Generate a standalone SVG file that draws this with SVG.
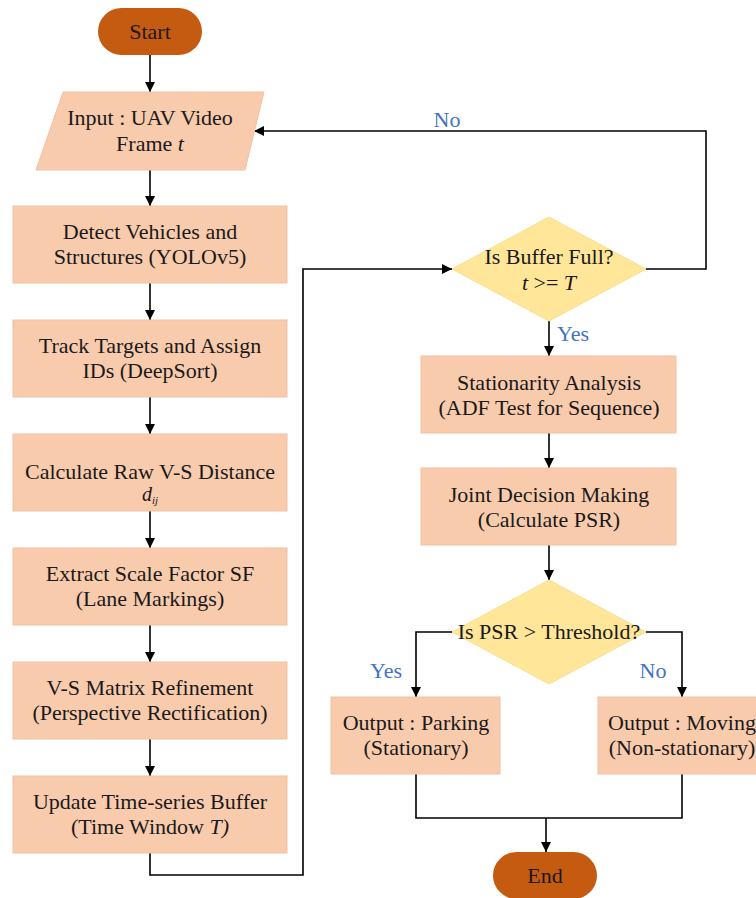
<svg xmlns="http://www.w3.org/2000/svg" width="756" height="898" viewBox="0 0 756 898">
<style>
.box{fill:#F8CBAD;stroke:#F2C2A2;stroke-width:1}
.dia{fill:#FFE699;stroke:#F8DE90;stroke-width:1}
.term{fill:#C55A11}
.t{font-family:"Liberation Serif","Times New Roman",serif;font-size:22px;fill:#1a1a1a;text-anchor:middle}
.lbl{font-family:"Liberation Serif","Times New Roman",serif;font-size:22px;fill:#4472C4;text-anchor:middle}
.c{fill:none;stroke:#000;stroke-width:1.6}
</style>
<defs>
<marker id="ah" markerWidth="10" markerHeight="10" refX="10" refY="5" orient="auto" markerUnits="userSpaceOnUse">
<path d="M0,0 L10,5 L0,10 Z" fill="#000"/>
</marker>
</defs>
<rect width="756" height="898" fill="#fff"/>
<g id="connectors">
<line class="c" x1="150" y1="55" x2="150" y2="92" marker-end="url(#ah)"/>
<line class="c" x1="150" y1="170" x2="150" y2="206" marker-end="url(#ah)"/>
<line class="c" x1="150" y1="283" x2="150" y2="320" marker-end="url(#ah)"/>
<line class="c" x1="150" y1="397" x2="150" y2="434" marker-end="url(#ah)"/>
<line class="c" x1="150" y1="511" x2="150" y2="548" marker-end="url(#ah)"/>
<line class="c" x1="150" y1="625" x2="150" y2="662" marker-end="url(#ah)"/>
<line class="c" x1="150" y1="739" x2="150" y2="776" marker-end="url(#ah)"/>
<polyline class="c" points="150,853 150,875 303,875 303,269 452,269" marker-end="url(#ah)"/>
<polyline class="c" points="646,269 706,269 706,131 254,131" marker-end="url(#ah)"/>
<line class="c" x1="549" y1="321" x2="549" y2="356" marker-end="url(#ah)"/>
<line class="c" x1="549" y1="433" x2="549" y2="468" marker-end="url(#ah)"/>
<line class="c" x1="549" y1="545" x2="549" y2="580" marker-end="url(#ah)"/>
<polyline class="c" points="452,632 416,632 416,697" marker-end="url(#ah)"/>
<polyline class="c" points="646,632 682,632 682,697" marker-end="url(#ah)"/>
<polyline class="c" points="416,774 416,818 682,818 682,774"/>
<line class="c" x1="546" y1="818" x2="546" y2="852" marker-end="url(#ah)"/>
<text class="lbl" x="447" y="127">No</text>
<text class="lbl" x="573" y="341">Yes</text>
<text class="lbl" x="386" y="678">Yes</text>
<text class="lbl" x="653" y="678">No</text>
</g>
<g id="start">
<rect class="term" x="98" y="8" width="104" height="47" rx="23.5"/>
<text class="t" x="150" y="39">Start</text>
</g>
<g id="input">
<polygon class="box" points="63,92 264,92 245,170 36,170"/>
<text class="t" x="150" y="125">Input : UAV Video</text>
<text class="t" x="150" y="151">Frame <tspan font-style="italic">t</tspan></text>
</g>
<g id="detect">
<rect class="box" x="13" y="206" width="274" height="77"/>
<text class="t" x="150" y="239">Detect Vehicles and</text>
<text class="t" x="150" y="264">Structures (YOLOv5)</text>
</g>
<g id="track">
<rect class="box" x="13" y="320" width="274" height="77"/>
<text class="t" x="150" y="353">Track Targets and Assign</text>
<text class="t" x="150" y="378">IDs (DeepSort)</text>
</g>
<g id="calc">
<rect class="box" x="13" y="434" width="274" height="77"/>
<text class="t" x="150" y="479">Calculate Raw V-S Distance</text>
<text class="t" x="150" y="501"><tspan font-style="italic" font-size="20">d</tspan><tspan font-style="italic" font-size="11" dy="3">ij</tspan></text>
</g>
<g id="extract">
<rect class="box" x="13" y="548" width="274" height="77"/>
<text class="t" x="150" y="581">Extract Scale Factor SF</text>
<text class="t" x="150" y="606">(Lane Markings)</text>
</g>
<g id="refine">
<rect class="box" x="13" y="662" width="274" height="77"/>
<text class="t" x="150" y="695">V-S Matrix Refinement</text>
<text class="t" x="150" y="720">(Perspective Rectification)</text>
</g>
<g id="update">
<rect class="box" x="13" y="776" width="274" height="77"/>
<text class="t" x="150" y="809">Update Time-series Buffer</text>
<text class="t" x="150" y="834">(Time Window <tspan font-style="italic">T)</tspan></text>
</g>
<g id="buffer">
<polygon class="dia" points="549,217 646,269 549,321 452,269"/>
<text class="t" x="549" y="264">Is Buffer Full?</text>
<text class="t" x="549" y="290"><tspan font-style="italic">t</tspan> &gt;= <tspan font-style="italic">T</tspan></text>
</g>
<g id="stationarity">
<rect class="box" x="421" y="356" width="255" height="77"/>
<text class="t" x="549" y="390">Stationarity Analysis</text>
<text class="t" x="549" y="415">(ADF Test for Sequence)</text>
</g>
<g id="joint">
<rect class="box" x="421" y="468" width="255" height="77"/>
<text class="t" x="549" y="502">Joint Decision Making</text>
<text class="t" x="549" y="527">(Calculate PSR)</text>
</g>
<g id="psr">
<polygon class="dia" points="549,580 646,632 549,684 452,632"/>
<text class="t" x="549" y="639">Is PSR &gt; Threshold?</text>
</g>
<g id="parking">
<rect class="box" x="331" y="697" width="169" height="77"/>
<text class="t" x="416" y="730">Output : Parking</text>
<text class="t" x="416" y="755">(Stationary)</text>
</g>
<g id="moving">
<rect class="box" x="598" y="697" width="169" height="77"/>
<text class="t" x="682" y="730">Output : Moving</text>
<text class="t" x="682" y="755">(Non-stationary)</text>
</g>
<g id="end">
<rect class="term" x="493" y="852" width="104" height="47" rx="23.5"/>
<text class="t" x="545" y="883">End</text>
</g>
</svg>
